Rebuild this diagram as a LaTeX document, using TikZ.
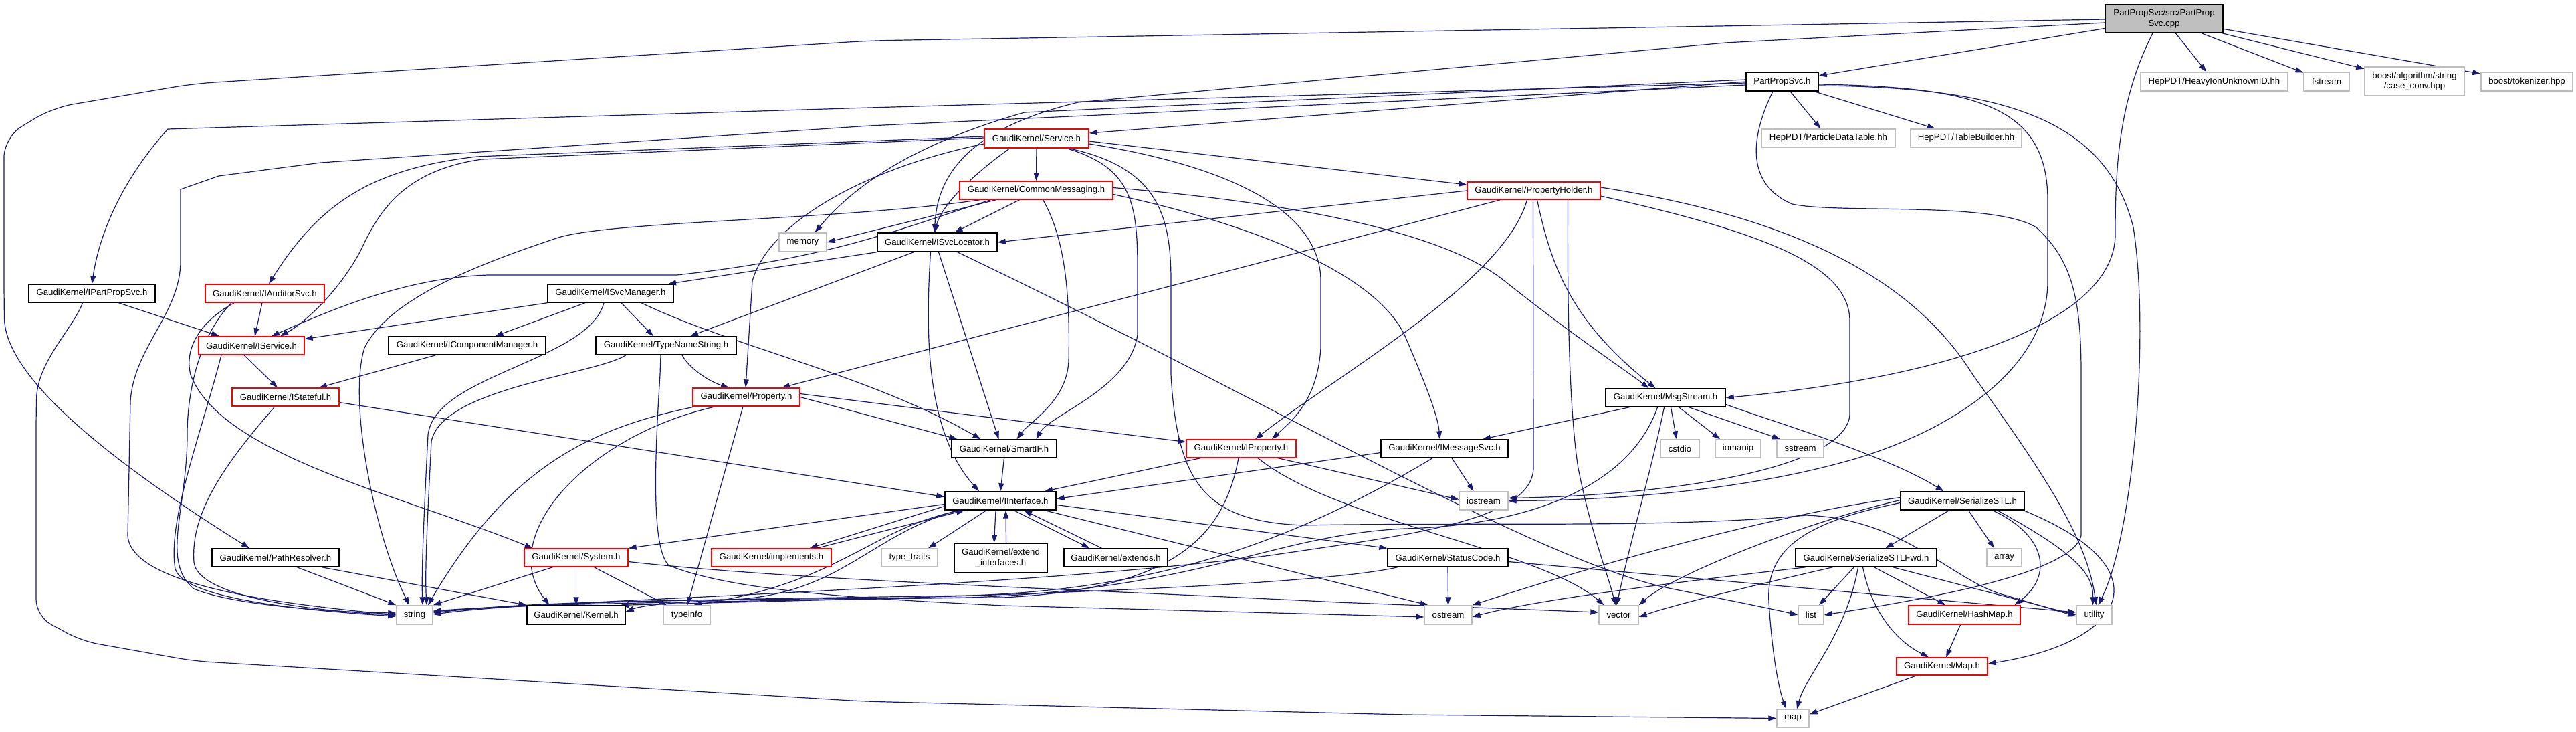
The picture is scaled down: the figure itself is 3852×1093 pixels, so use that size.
\documentclass[tikz,border=0pt]{standalone}
\usepackage{fontspec}
\setmainfont{Liberation Sans}
\usetikzlibrary{arrows.meta}
\definecolor{edgec}{HTML}{191970}
\definecolor{grayb}{HTML}{BFBFBF}
\pgfdeclarelayer{paper}
\pgfdeclarelayer{edgelayer}
\pgfsetlayers{paper,edgelayer,main}
\begin{document}
\begin{tikzpicture}[x=1pt,y=-1pt,
  font=\fontsize{13.2}{15.8}\selectfont,
  bx/.style={draw=black, fill=white, line width=1.4pt, inner sep=0pt, align=center},
  br/.style={bx, draw=red},
  bgr/.style={bx, draw=grayb},
  broot/.style={bx, fill=grayb},
  e/.style={draw=edgec, line width=1.2pt, -{Triangle[length=12pt,width=8pt]}}]
\begin{pgfonlayer}{paper}
\fill[white] (0,0) rectangle (3852,1093);
\end{pgfonlayer}
\useasboundingbox (0,0) rectangle (3852,1093);
% nodes
\node[broot,minimum width=176pt,minimum height=42pt] (cpp) at (3236,28) {PartPropSvc/src/PartProp\\Svc.cpp};
\node[bx,minimum width=108pt,minimum height=28pt] (pps) at (2665,122) {PartPropSvc.h};
\node[bgr,minimum width=220pt,minimum height=28pt] (heavy) at (3311,122) {HepPDT/HeavyIonUnknownID.hh};
\node[bgr,minimum width=68pt,minimum height=28pt] (fstream) at (3479,122) {fstream};
\node[bgr,minimum width=149pt,minimum height=43pt] (caseconv) at (3610.5,121.5) {boost/algorithm/string\\/case\_conv.hpp};
\node[bgr,minimum width=137pt,minimum height=28pt] (tokenizer) at (3778.5,122) {boost/tokenizer.hpp};
\node[bgr,minimum width=200pt,minimum height=27pt] (pdt) at (2734,206.5) {HepPDT/ParticleDataTable.hh};
\node[bgr,minimum width=166pt,minimum height=27pt] (tb) at (2940,206.5) {HepPDT/TableBuilder.hh};
\node[br,minimum width=156pt,minimum height=28pt] (service) at (1550,207) {GaudiKernel/Service.h};
\node[br,minimum width=229pt,minimum height=27pt] (commsg) at (1549.5,284.5) {GaudiKernel/CommonMessaging.h};
\node[br,minimum width=199pt,minimum height=26pt] (propholder) at (2293.5,285) {GaudiKernel/PropertyHolder.h};
\node[bx,minimum width=179pt,minimum height=28pt] (isvcloc) at (1401.5,362) {GaudiKernel/ISvcLocator.h};
\node[bgr,minimum width=71pt,minimum height=28pt] (memory) at (1200.5,362) {memory};
\node[bx,minimum width=179pt,minimum height=27pt] (msgstream) at (2490.5,594.5) {GaudiKernel/MsgStream.h};
\node[bx,minimum width=189pt,minimum height=27pt] (ipps) at (137.5,438.5) {GaudiKernel/IPartPropSvc.h};
\node[br,minimum width=178pt,minimum height=27pt] (iaud) at (396,438.5) {GaudiKernel/IAuditorSvc.h};
\node[bx,minimum width=188pt,minimum height=27pt] (isvcmgr) at (913,438.5) {GaudiKernel/ISvcManager.h};
\node[br,minimum width=158pt,minimum height=27pt] (iservice) at (376,516.5) {GaudiKernel/IService.h};
\node[bx,minimum width=235pt,minimum height=27pt] (icompmgr) at (698.5,516.5) {GaudiKernel/IComponentManager.h};
\node[bx,minimum width=210pt,minimum height=27pt] (typename) at (996,516.5) {GaudiKernel/TypeNameString.h};
\node[br,minimum width=160pt,minimum height=27pt] (istateful) at (427,593.5) {GaudiKernel/IStateful.h};
\node[br,minimum width=160pt,minimum height=27pt] (property) at (1116,593.5) {GaudiKernel/Property.h};
\node[bx,minimum width=157pt,minimum height=27pt] (smartif) at (1501.5,670.5) {GaudiKernel/SmartIF.h};
\node[br,minimum width=164pt,minimum height=27pt] (iproperty) at (1856,670.5) {GaudiKernel/IProperty.h};
\node[bx,minimum width=190pt,minimum height=27pt] (imsgsvc) at (2160,670.5) {GaudiKernel/IMessageSvc.h};
\node[bgr,minimum width=58pt,minimum height=27pt] (cstdio) at (2512,670.5) {cstdio};
\node[bgr,minimum width=68pt,minimum height=27pt] (iomanip) at (2599,670.5) {iomanip};
\node[bgr,minimum width=70pt,minimum height=27pt] (sstream) at (2692,670.5) {sstream};
\node[bx,minimum width=166pt,minimum height=27pt] (iinterface) at (1496,748.5) {GaudiKernel/IInterface.h};
\node[bgr,minimum width=73pt,minimum height=27pt] (iostream) at (2218.5,748.5) {iostream};
\node[bx,minimum width=185pt,minimum height=27pt] (serstl) at (2934.5,748.5) {GaudiKernel/SerializeSTL.h};
\node[bx,minimum width=190pt,minimum height=27pt] (pathres) at (412,833.5) {GaudiKernel/PathResolver.h};
\node[br,minimum width=155pt,minimum height=27pt] (system) at (861.5,833.5) {GaudiKernel/System.h};
\node[br,minimum width=179pt,minimum height=27pt] (implements) at (1153.5,833.5) {GaudiKernel/implements.h};
\node[bgr,minimum width=84pt,minimum height=27pt] (typetraits) at (1360,833.5) {type\_traits};
\node[bx,minimum width=139pt,minimum height=44pt] (extendif) at (1496.5,834) {GaudiKernel/extend\\\_interfaces.h};
\node[bx,minimum width=155pt,minimum height=27pt] (extends) at (1668.5,833.5) {GaudiKernel/extends.h};
\node[bx,minimum width=180pt,minimum height=27pt] (statuscode) at (2165,833.5) {GaudiKernel/StatusCode.h};
\node[bx,minimum width=211pt,minimum height=27pt] (serstlfwd) at (2790.5,833.5) {GaudiKernel/SerializeSTLFwd.h};
\node[bgr,minimum width=52pt,minimum height=27pt] (array) at (2997,833.5) {array};
\node[bgr,minimum width=54pt,minimum height=28pt] (string) at (620,919) {string};
\node[bx,minimum width=147pt,minimum height=28pt] (kernel) at (861.5,919) {GaudiKernel/Kernel.h};
\node[bgr,minimum width=70pt,minimum height=28pt] (typeinfo) at (1027,919) {typeinfo};
\node[bgr,minimum width=71pt,minimum height=28pt] (ostream) at (2165.5,919) {ostream};
\node[bgr,minimum width=59pt,minimum height=28pt] (vector) at (2420.5,919) {vector};
\node[bgr,minimum width=38pt,minimum height=28pt] (list) at (2708,919) {list};
\node[br,minimum width=167pt,minimum height=28pt] (hashmap) at (2937.5,919) {GaudiKernel/HashMap.h};
\node[bgr,minimum width=53pt,minimum height=28pt] (utility) at (3131.5,919) {utility};
\node[br,minimum width=136pt,minimum height=26pt] (maph) at (2904,996) {GaudiKernel/Map.h};
\node[bgr,minimum width=48pt,minimum height=27pt] (map) at (2681,1073.5) {map};
\begin{pgfonlayer}{edgelayer}
% cpp
\draw[e] (cpp) -- (pps);
\draw[e] (cpp) -- (heavy);
\draw[e] (cpp) -- (fstream);
\draw[e] (cpp) -- (caseconv);
\draw[e] (cpp) -- (tokenizer);
\draw[e] ([xshift=-17pt]cpp.south) .. controls (3168,150) and (3163,250) .. (3163,350) .. controls (3163,470) and (2950,560) .. (msgstream.east);
\draw[e] ([yshift=-6pt]cpp.west) -- (2580,64) -- (1612,153) .. controls (1480,185) and (1402,240) .. ([xshift=-4pt]isvcloc.north);
\draw[e,rounded corners=30pt] ([yshift=-1pt]cpp.west) -- (1300,61) -- (290,125) -- (79,161) -- (6,205) -- (6,446) .. controls (8,560) and (150,680) .. ([xshift=-39pt]pathres.north);
% ipps
\draw[e,rounded corners=25pt] ([xshift=-14pt]ipps.south) .. controls (110,490) and (56,540) .. (54,620) -- (54,921) -- (122,958) -- (290,988) -- (1290,1048) -- (2100,1068) -- (map.west);
\draw[e] ([xshift=40pt]ipps.south) -- ([xshift=-48pt]iservice.north);
% pps
\draw[e] (pps.west) -- ([yshift=8pt]service.east);
\draw[e] ([yshift=-2pt]pps.west) -- (1300,161) -- (251,193) .. controls (190,260) and (150,340) .. (ipps.north);
\draw[e] ([yshift=-5pt]pps.west) -- (1300,188) -- (480,243) -- (327,263) -- (270,283) -- (270,393) .. controls (268,470) and (200,520) .. (195,600) -- (191,800) .. controls (195,880) and (450,905) .. (string.west);
\draw[e] ([yshift=3pt]pps.west) -- (1532,168) .. controls (1420,200) and (1300,250) .. ([xshift=18pt]memory.north);
\draw[e] (pps) -- (pdt);
\draw[e] (pps) -- (tb);
\draw[e] ([xshift=-14pt]pps.south) .. controls (2610,220) and (2620,280) .. (2680,305) .. controls (2750,320) and (2980,300) .. (3045,340) .. controls (3100,390) and (3112,450) .. (3112,560) -- (3112,800) .. controls (3100,860) and (2850,900) .. (list.east);
\draw[e] ([yshift=-6pt]pps.east) .. controls (3000,130) and (3150,180) .. (3190,340) .. controls (3215,500) and (3190,800) .. ([xshift=6pt]utility.north);
\draw[e] ([yshift=-4pt]pps.east) .. controls (2960,130) and (3062,160) .. (3062,300) -- (3062,420) .. controls (3062,560) and (2900,650) .. (2766,688) .. controls (2600,735) and (2400,748) .. (iostream.east);
% service
\draw[e] (service) -- (commsg);
\draw[e] ([yshift=-4pt]service.east) -- ([yshift=9pt]propholder.west);
\draw[e] ([xshift=-40pt]service.south) .. controls (1470,250) and (1410,300) .. ([xshift=-4pt]isvcloc.north);
\draw[e] ([yshift=3pt]service.west) -- (713,234) .. controls (560,252) and (480,300) .. ([xshift=6pt]iaud.north);
\draw[e] ([yshift=1pt]service.west) -- (721,238) .. controls (600,255) and (565,320) .. (539,375) .. controls (510,430) and (460,480) .. ([xshift=43pt]iservice.north);
\draw[e] ([yshift=-8pt]service.west) .. controls (1300,250) and (1150,330) .. (1125,420) -- ([xshift=-1pt]property.north);
\draw[e] ([xshift=45pt]service.south) .. controls (1690,250) and (1701,300) .. (1701,400) -- (1701,500) .. controls (1690,580) and (1570,620) .. ([xshift=48pt]smartif.north);
\draw[e] ([xshift=48pt]service.south) .. controls (1730,250) and (1751,320) .. (1751,420) -- (1751,560) .. controls (1760,720) and (1800,780) .. (1950,785) .. controls (2200,780) and (2500,790) .. (2700,770) .. controls (2850,775) and (2920,870) .. (3000,890) -- ([yshift=-2pt]utility.west);
\draw[e] ([yshift=-8pt]service.east) .. controls (1850,250) and (1975,320) .. (1975,420) -- (1975,520) .. controls (1970,600) and (1930,630) .. ([xshift=46pt]iproperty.north);
% commsg
\draw[e] ([xshift=-60pt]commsg.south) -- (memory.east);
\draw[e] ([xshift=-25pt]commsg.south) -- ([xshift=26pt]isvcloc.north);
\draw[e] ([xshift=-68pt]commsg.south) .. controls (1350,340) and (1250,385) .. (1012,411) -- (730,411) .. controls (600,415) and (480,470) .. ([xshift=30pt]iservice.north);
\draw[e] ([xshift=-84pt]commsg.south) .. controls (1250,330) and (900,330) .. (829,357) .. controls (700,400) and (580,450) .. (545,520) .. controls (520,600) and (560,800) .. ([xshift=-8pt]string.north);
\draw[e] ([yshift=4pt]commsg.east) .. controls (1900,300) and (2150,340) .. (2250,420) .. controls (2350,500) and (2440,560) .. ([xshift=-25pt]msgstream.north);
\draw[e] ([yshift=-6pt]commsg.east) .. controls (1850,330) and (2050,400) .. (2100,500) .. controls (2130,570) and (2150,620) .. ([xshift=-7pt]imsgsvc.north);
\draw[e] ([xshift=10pt]commsg.south) .. controls (1595,360) and (1600,450) .. (1598,540) .. controls (1595,600) and (1540,630) .. ([xshift=19pt]smartif.north);
% propholder
\draw[e] (propholder.west) -- (isvcloc.east);
\draw[e] ([xshift=-50pt]propholder.south) -- ([xshift=53pt]property.north);
\draw[e] ([xshift=-10pt]propholder.south) .. controls (2250,420) and (2000,560) .. ([xshift=21pt]iproperty.north);
\draw[e] ([xshift=5pt]propholder.south) .. controls (2320,400) and (2350,480) .. ([xshift=-15pt]msgstream.north);
\draw[e] ([xshift=-1pt]propholder.south) -- (2293,700) .. controls (2290,780) and (2100,800) .. (1900,830) .. controls (1500,880) and (900,895) .. ([yshift=5pt]string.east);
\draw[e] ([xshift=51pt]propholder.south) .. controls (2344,400) and (2344,600) .. (2360,700) .. controls (2380,800) and (2405,860) .. ([xshift=-5pt]vector.north);
\draw[e] ([yshift=-8pt]propholder.east) .. controls (2650,350) and (2766,400) .. (2766,480) -- (2766,620) .. controls (2760,700) and (2500,740) .. ([yshift=4pt]iostream.east);
\draw[e] ([yshift=5pt]propholder.east) .. controls (2650,320) and (2850,400) .. (2950,560) .. controls (3050,700) and (3120,800) .. ([xshift=3pt]utility.north);
% isvcloc
\draw[e] (isvcloc.south west) -- ([xshift=86pt]isvcmgr.north);
\draw[e] ([xshift=2pt]isvcloc.south) -- ([xshift=-8pt]smartif.north);
\draw[e] ([xshift=-35pt]isvcloc.south) -- ([xshift=36pt]typename.north);
\draw[e] ([xshift=-10pt]isvcloc.south) .. controls (1385,480) and (1380,640) .. ([xshift=-32pt]iinterface.north);
\draw[e] ([xshift=30pt]isvcloc.south) .. controls (1900,600) and (2300,840) .. (2500,880) .. controls (2600,900) and (2650,910) .. (list.west);
% iaud
\draw[e] ([xshift=-4pt]iaud.south) -- ([xshift=5pt]iservice.north);
\draw[e] ([xshift=-50pt]iaud.south) .. controls (300,500) and (280,580) .. (280,650) .. controls (280,760) and (240,840) .. (290,880) .. controls (350,905) and (500,915) .. ([yshift=3pt]string.west);
\draw[e] ([xshift=-46pt]iaud.south) .. controls (300,480) and (275,520) .. (285,560) .. controls (330,680) and (600,740) .. ([xshift=-65pt]system.north);
% isvcmgr
\draw[e] (isvcmgr.south west) -- ([yshift=10pt]iservice.east);
\draw[e] ([xshift=-38pt]isvcmgr.south) -- ([xshift=42pt]icompmgr.north);
\draw[e] ([xshift=16pt]isvcmgr.south) -- ([xshift=-19pt]typename.north);
\draw[e] ([xshift=46pt]isvcmgr.south) .. controls (1100,520) and (1300,560) .. ([xshift=-35pt]smartif.north);
\draw[e] ([xshift=-10pt]isvcmgr.south) .. controls (880,540) and (650,560) .. (640,650) .. controls (635,750) and (630,850) .. ([xshift=12pt]string.north);
% icompmgr, iservice, typename
\draw[e] ([xshift=-47pt]icompmgr.south) -- ([xshift=50pt]istateful.north);
\draw[e] ([xshift=-11pt]iservice.south) -- ([xshift=-12pt]istateful.north);
\draw[e] ([xshift=-45pt]iservice.south) .. controls (300,650) and (250,780) .. (262,850) .. controls (275,895) and (450,912) .. ([yshift=-2pt]string.west);
\draw[e] ([xshift=-60pt]typename.south) .. controls (890,560) and (660,580) .. (645,660) .. controls (640,760) and (635,850) .. ([xshift=18pt]string.north);
\draw[e] ([xshift=24pt]typename.south) .. controls (1030,550) and (1060,570) .. ([xshift=-26pt]property.north);
\draw[e] ([xshift=-8pt]typename.south) -- (987,560) .. controls (978,700) and (975,820) .. (1000,845) .. controls (1100,885) and (1300,895) .. (1500,905) -- ([yshift=-3pt]ostream.west);
% istateful
\draw[e] ([yshift=-8pt]istateful.east) -- ([yshift=6pt]iinterface.west);
\draw[e] ([xshift=-16pt]istateful.south) .. controls (330,700) and (285,770) .. (290,840) .. controls (295,890) and (450,912) .. (string.west);
% property
\draw[e] (property.east) -- ([xshift=-70pt]smartif.north);
\draw[e] ([yshift=5pt]property.east) -- ([yshift=10pt]iproperty.west);
\draw[e] ([xshift=-46pt]property.south) .. controls (880,650) and (740,800) .. ([xshift=-40pt]kernel.north);
\draw[e] ([xshift=-76pt]property.south) .. controls (880,640) and (760,700) .. ([xshift=20pt]string.north);
\draw[e] ([xshift=-5pt]property.south) -- ([xshift=1pt]typeinfo.north);
% smartif
\draw[e] (smartif.south) -- (iinterface.north);
% iproperty
\draw[e] ([xshift=-61pt]iproperty.south) -- ([xshift=66pt]iinterface.north);
\draw[e] ([xshift=55pt]iproperty.south) -- ([yshift=2pt]iostream.west);
\draw[e] ([xshift=-4pt]iproperty.south) .. controls (1830,800) and (1760,880) .. (1500,893) .. controls (1000,896) and (800,898) .. ([yshift=3pt]string.east);
\draw[e] ([xshift=25pt]iproperty.south) .. controls (2000,780) and (2300,820) .. ([xshift=-22pt]vector.north);
% imsgsvc
\draw[e] ([yshift=-6pt]imsgsvc.west) -- ([yshift=3pt]iinterface.east);
\draw[e] ([xshift=11pt]imsgsvc.south) -- ([xshift=-15pt]iostream.north);
\draw[e] ([xshift=-18pt]imsgsvc.south) .. controls (1950,800) and (1750,880) .. (1450,890) .. controls (1000,897) and (800,899) .. ([yshift=1pt]string.east);
% msgstream
\draw[e] ([xshift=-54pt]msgstream.south) -- ([xshift=57pt]imsgsvc.north);
\draw[e] ([xshift=8pt]msgstream.south) -- ([xshift=-5pt]cstdio.north);
\draw[e] ([xshift=20pt]msgstream.south) -- ([xshift=-27pt]iomanip.north);
\draw[e] ([xshift=35pt]msgstream.south) -- ([xshift=-30pt]sstream.north);
\draw[e] ([yshift=-10pt]msgstream.east) .. controls (2650,630) and (2820,680) .. ([xshift=-28pt]serstl.north);
\draw[e] ([xshift=-2pt]msgstream.south) .. controls (2470,700) and (2440,800) .. ([xshift=-3pt]vector.north);
\draw[e] ([xshift=-12pt]msgstream.south) .. controls (2440,720) and (2300,785) .. (2100,790) .. controls (1900,800) and (1800,880) .. (1450,893) .. controls (1000,900) and (800,902) .. ([yshift=6pt]string.east);
% iinterface
\draw[e] ([xshift=-21pt]iinterface.south) -- ([xshift=28pt]typetraits.north);
\draw[e] ([xshift=-7pt]iinterface.south) -- ([xshift=-10pt]extendif.north);
\draw[e] ([xshift=8pt]extendif.north) -- ([xshift=8pt]iinterface.south);
\draw[e] ([xshift=20pt]iinterface.south) -- ([xshift=-39pt]extends.north);
\draw[e] ([xshift=-21pt]extends.north) -- ([xshift=35pt]iinterface.south);
\draw[e] ([yshift=-8pt]iinterface.west) -- ([xshift=57pt]implements.north);
\draw[e] ([xshift=68pt]implements.north) -- ([xshift=-54pt]iinterface.south);
\draw[e] ([yshift=-5pt]iinterface.west) -- (system.north east);
\draw[e] ([yshift=-6pt]iinterface.east) -- (statuscode.north west);
\draw[e] ([xshift=66pt]iinterface.south) -- ([xshift=-30pt]ostream.north);
\draw[e] ([xshift=-60pt]iinterface.south) .. controls (1300,790) and (1260,870) .. ([xshift=10pt]typeinfo.north);
\draw[e] ([xshift=-64pt]iinterface.south) .. controls (1300,800) and (1260,885) .. (1100,896) .. controls (1000,900) and (960,905) .. ([yshift=5pt]kernel.east);
% pathres, system
\draw[e] ([xshift=32pt]pathres.south) -- (string.north west);
\draw[e] ([xshift=69pt]pathres.south) -- (kernel.north west);
\draw[e] ([xshift=-35pt]system.south) -- (string.north east);
\draw[e] (system.south) -- (kernel.north);
\draw[e] ([xshift=27pt]system.south) -- ([xshift=-30pt]typeinfo.north);
\draw[e] ([yshift=-6pt]system.east) .. controls (1200,868) and (1600,880) .. (2000,900) -- ([yshift=4pt]vector.west);
% statuscode
\draw[e] (statuscode.south) -- (ostream.north);
\draw[e] ([xshift=-75pt]statuscode.south) .. controls (1950,880) and (1300,895) .. (1100,900) -- ([xshift=-8pt]kernel.north east);
\draw[e] ([yshift=-6pt]statuscode.east) -- ([yshift=4pt]utility.west);
% serstl
\draw[e] ([xshift=-20pt]serstl.south) -- ([xshift=29pt]serstlfwd.north);
\draw[e] ([xshift=9pt]serstl.south) -- ([xshift=-15pt]array.north);
\draw[e] ([xshift=45pt]serstl.south) .. controls (3060,800) and (3070,860) .. ([xshift=75pt]hashmap.north);
\draw[e] ([xshift=52pt]serstl.south) .. controls (3110,830) and (3130,860) .. ([xshift=-2pt]utility.north);
\draw[e] ([xshift=-2pt]serstl.south east) .. controls (3240,850) and (3180,960) .. ([yshift=4pt]maph.east);
\draw[e] ([yshift=-3pt]serstl.west) .. controls (2700,780) and (2640,820) .. (2645,900) .. controls (2650,980) and (2660,1030) .. ([xshift=-10pt]map.north);
\draw[e] ([yshift=5pt]serstl.west) .. controls (2650,770) and (2400,840) .. (ostream.north east);
\draw[e] ([yshift=1pt]serstl.west) .. controls (2700,780) and (2500,860) .. (vector.north east);
% serstlfwd
\draw[e] ([xshift=-18pt]serstlfwd.south) -- ([xshift=12pt]list.north);
\draw[e] ([xshift=-12pt]serstlfwd.south) .. controls (2760,950) and (2700,1010) .. ([xshift=6pt]map.north);
\draw[e] ([xshift=-5pt]serstlfwd.south) .. controls (2800,920) and (2840,960) .. ([xshift=-20pt]maph.north);
\draw[e] ([xshift=12pt]serstlfwd.south) -- ([xshift=-28pt]hashmap.north);
\draw[e] ([xshift=40pt]serstlfwd.south) -- (utility.west);
\draw[e] ([xshift=-90pt]serstlfwd.south) .. controls (2550,865) and (2300,895) .. ([yshift=-3pt]ostream.east);
\draw[e] ([xshift=-50pt]serstlfwd.south) .. controls (2600,880) and (2500,905) .. ([yshift=-3pt]vector.east);
% maps
\draw[e] ([xshift=-6pt]hashmap.south) -- ([xshift=6pt]maph.north);
\draw[e] ([xshift=-38pt]maph.south) -- ([yshift=6pt]map.east);
\end{pgfonlayer}
\end{tikzpicture}
\end{document}
